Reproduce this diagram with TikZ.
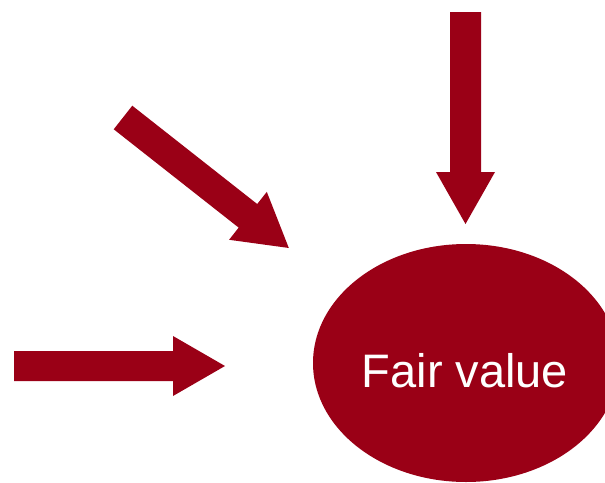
\documentclass[tikz,border=0pt]{standalone}
\usepackage{fontspec}
\setmainfont{Liberation Sans}
\usetikzlibrary{shapes.geometric}
\definecolor{fvred}{HTML}{9A0016}
\tikzset{
  fatarrow/.style={fill=fvred, draw=none},
  fvellipse/.style={ellipse, fill=fvred, draw=none, inner sep=0pt},
  fvtext/.style={text=white, font=\fontsize{47}{56}\selectfont, inner sep=0pt}
}
\begin{document}
\begin{tikzpicture}[x=1pt,y=-1pt]
\useasboundingbox (0,0) rectangle (605,482);
\clip (0,0) rectangle (605,482);
% ellipse
\node[fvellipse, minimum width=306pt, minimum height=238pt] (fv) at (466,363) {};
\node[fvtext, anchor=base] (fvlabel) at (465,387) {Fair value};
% down arrow
\fill[fatarrow] (450,12) -- (481,12) -- (481,172) -- (495,172) -- (465.5,224) -- (436,172) -- (450,172) -- cycle;
% right arrow
\fill[fatarrow] (14,351) -- (173,351) -- (173,336) -- (225,366) -- (173,396) -- (173,381) -- (14,381) -- cycle;
% diagonal arrow
\begin{scope}[shift={(123,117.5)}, rotate=-38.2]
\fill[fatarrow] (0,-15) -- (159,-15) -- (159,-30.5) -- (211,0) -- (159,30.5) -- (159,15) -- (0,15) -- cycle;
\end{scope}
\end{tikzpicture}
\end{document}
